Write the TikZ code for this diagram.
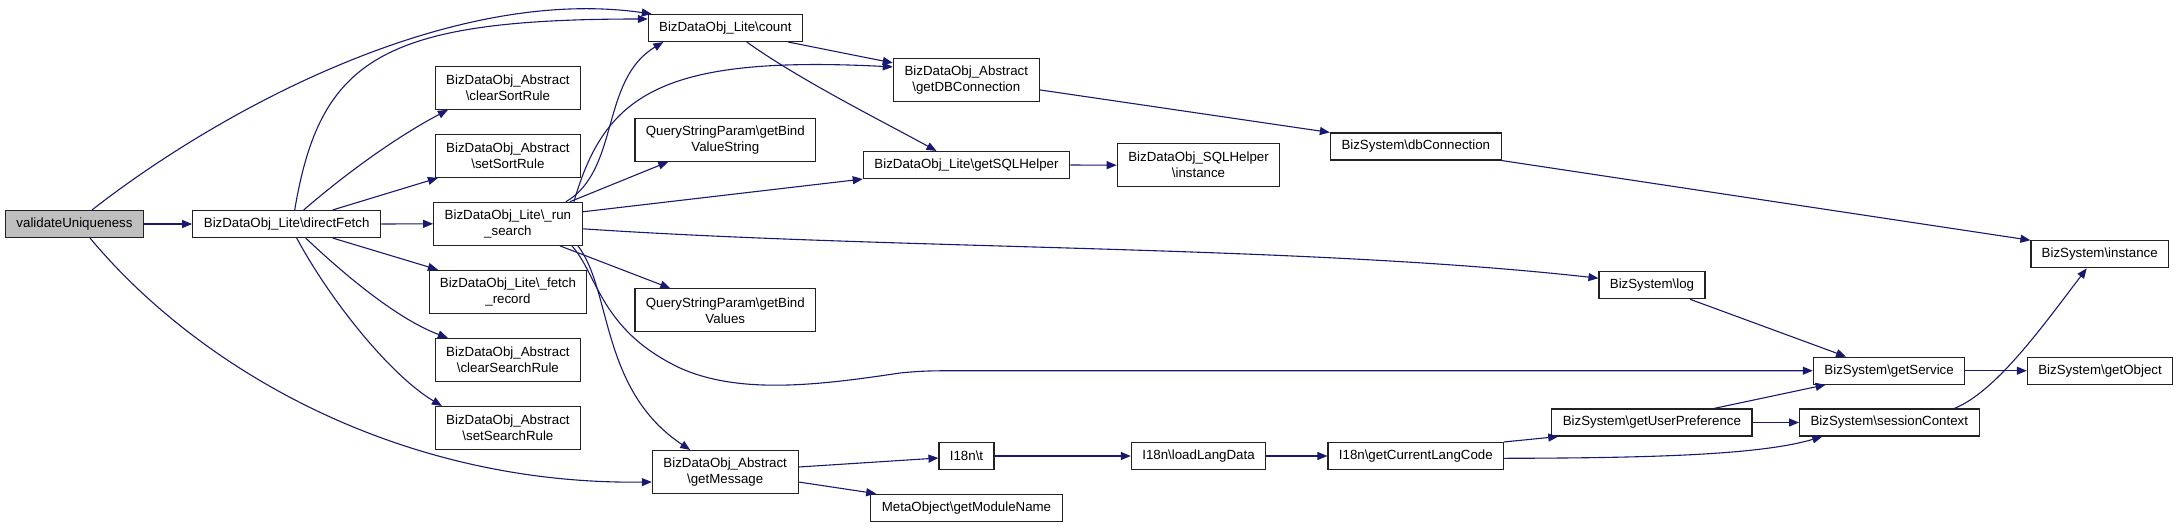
\documentclass[tikz,border=0pt]{standalone}
\usepackage{fontspec}
\setmainfont{Liberation Sans}
\usetikzlibrary{arrows.meta}
\definecolor{edgeblue}{HTML}{191970}
\definecolor{rootgray}{HTML}{BFBFBF}
\definecolor{boxline}{HTML}{222222}
\tikzset{
  fn/.style={draw=boxline, line width=1.1pt, font=\fontsize{13.3}{16}\selectfont, align=center, inner sep=0pt, minimum height=27pt, fill=white},
  two/.style={minimum height=43pt},
  edge/.style={draw=edgeblue, line width=1.1pt, -{Triangle[length=10pt,width=8pt]}}
}
\begin{document}
\begin{tikzpicture}[x=1pt,y=-1pt]
\fill[white] (0,0) rectangle (2179,528);
\useasboundingbox (0,0) rectangle (2179,528);
% nodes
\node[fn, fill=rootgray, minimum width=138pt] (vu) at (74.5,224) {validateUniqueness};
\node[fn, minimum width=188pt] (df) at (286.7,224) {BizDataObj\_Lite\textbackslash directFetch};
\node[fn, two, minimum width=145.5pt] (csr) at (507.9,87.8) {BizDataObj\_Abstract\\\textbackslash clearSortRule};
\node[fn, two, minimum width=145.5pt] (ssr) at (507.9,155.9) {BizDataObj\_Abstract\\\textbackslash setSortRule};
\node[fn, two, minimum width=148.5pt] (rs) at (507.9,223.8) {BizDataObj\_Lite\textbackslash \_run\\\_search};
\node[fn, two, minimum width=157.7pt] (fr) at (507.9,291.8) {BizDataObj\_Lite\textbackslash \_fetch\\\_record};
\node[fn, two, minimum width=145.5pt] (cser) at (507.9,360) {BizDataObj\_Abstract\\\textbackslash clearSearchRule};
\node[fn, two, minimum width=145.5pt] (sser) at (507.9,428) {BizDataObj\_Abstract\\\textbackslash setSearchRule};
\node[fn, minimum width=154pt] (cnt) at (725.3,28) {BizDataObj\_Lite\textbackslash count};
\node[fn, two, minimum width=146pt] (gdb) at (966.3,79.9) {BizDataObj\_Abstract\\\textbackslash getDBConnection};
\node[fn, two, minimum width=180.7pt] (gbvs) at (725.3,139.7) {QueryStringParam\textbackslash getBind\\ValueString};
\node[fn, minimum width=206.4pt] (gsql) at (966.5,165) {BizDataObj\_Lite\textbackslash getSQLHelper};
\node[fn, two, minimum width=180.7pt] (gbv) at (725.3,310.3) {QueryStringParam\textbackslash getBind\\Values};
\node[fn, two, minimum width=145.7pt] (gm) at (725.2,472) {BizDataObj\_Abstract\\\textbackslash getMessage};
\node[fn, minimum width=55pt] (tt) at (966.5,456) {I18n\textbackslash t};
\node[fn, minimum width=191.6pt] (gmn) at (966.5,507.7) {MetaObject\textbackslash getModuleName};
\node[fn, two, minimum width=162.6pt] (sqli) at (1198.5,165.2) {BizDataObj\_SQLHelper\\\textbackslash instance};
\node[fn, minimum width=170.8pt] (dbc) at (1415.8,146.5) {BizSystem\textbackslash dbConnection};
\node[fn, minimum width=134.3pt] (lld) at (1198.5,456) {I18n\textbackslash loadLangData};
\node[fn, minimum width=175.6pt] (gclc) at (1415.8,456) {I18n\textbackslash getCurrentLangCode};
\node[fn, minimum width=106pt] (log) at (1652,285.2) {BizSystem\textbackslash log};
\node[fn, minimum width=200.2pt] (gup) at (1651.9,422.5) {BizSystem\textbackslash getUserPreference};
\node[fn, minimum width=137.5pt] (inst) at (2099.7,254.3) {BizSystem\textbackslash instance};
\node[fn, minimum width=151.6pt] (gs) at (1889.1,370.7) {BizSystem\textbackslash getService};
\node[fn, minimum width=179.5pt] (sc) at (1889.3,422.5) {BizSystem\textbackslash sessionContext};
\node[fn, minimum width=145.4pt] (go) at (2100,370.7) {BizSystem\textbackslash getObject};
% edges from validateUniqueness
\draw[edge] (vu.east) -- (df.west);
\draw[edge] ([xshift=17.5pt]vu.north) .. controls (220,110) and (450,-15) .. ([xshift=4pt]cnt.north west);
\draw[edge] ([xshift=15.5pt]vu.south) .. controls (200,370) and (400,485) .. ([yshift=-10pt]gm.west);
% edges from directFetch
\draw[edge] ([xshift=8pt]df.north) .. controls (320,60) and (380,19) .. ([yshift=9pt]cnt.west);
\draw[edge] ([xshift=17pt]df.north) .. controls (350,170) and (400,135) .. ([xshift=-60pt]csr.south);
\draw[edge] ([xshift=46pt]df.north) -- ([xshift=-70pt]ssr.south);
\draw[edge] (df.east) -- (rs.west);
\draw[edge] ([xshift=46pt]df.south) -- ([xshift=-70pt]fr.north);
\draw[edge] ([xshift=19pt]df.south) .. controls (350,280) and (400,320) .. ([xshift=-60pt]cser.north);
\draw[edge] ([xshift=10pt]df.south) .. controls (330,300) and (390,375) .. ([xshift=-66pt]sser.north);
% edges from _run_search
\draw[edge] ([xshift=58pt]rs.north) .. controls (620,170) and (600,80) .. ([xshift=-62pt]cnt.south);
\draw[edge] ([xshift=66pt]rs.north) .. controls (605,95) and (660,55) .. ([yshift=13pt]gdb.west);
\draw[edge] ([xshift=62pt]rs.north) -- ([xshift=-57pt]gbvs.south);
\draw[edge] ([yshift=12pt]rs.east) -- (gsql.south west);
\draw[edge] ([yshift=-5pt]rs.east) .. controls (900,250) and (1300,245) .. ([yshift=7pt]log.west);
\draw[edge] ([xshift=52pt]rs.south) -- ([xshift=-55pt]gbv.north);
\draw[edge] ([xshift=64pt]rs.south) .. controls (598,275) and (600,330) .. (680,368)
   .. controls (740,395) and (820,385) .. (900,373)
   .. controls (920,371) and (930,370.7) .. (960,370.7) -- (gs.west);
\draw[edge] ([xshift=70pt]rs.south) .. controls (612,290) and (600,390) .. ([xshift=-35pt]gm.north);
% edges from count
\draw[edge] ([xshift=63pt]cnt.south) -- ([yshift=17pt]gdb.west);
\draw[edge] ([xshift=21.5pt]cnt.south) .. controls (800,80) and (880,120) .. ([xshift=-30pt]gsql.north);
% others
\draw[edge] ([yshift=-10pt]gdb.east) -- (dbc.north west);
\draw[edge] (gsql.east) -- (sqli.west);
\draw[edge] (dbc.south east) -- (inst.north west);
\draw[edge] ([yshift=5pt]gm.east) -- ([yshift=-2pt]tt.west);
\draw[edge] ([yshift=-10pt]gm.east) -- ([xshift=6pt]gmn.north west);
\draw[edge] (tt.east) -- (lld.west);
\draw[edge] (lld.east) -- (gclc.west);
\draw[edge] (gclc.north east) -- ([xshift=7pt]gup.south west);
\draw[edge] ([yshift=-2.3pt]gclc.east) .. controls (1650,458) and (1760,455) .. ([xshift=-67pt]sc.south);
\draw[edge] ([xshift=62pt]gup.north) -- ([xshift=-63.5pt]gs.south);
\draw[edge] (gup.east) -- (sc.west);
\draw[edge] ([xshift=38pt]log.south) -- ([xshift=-43pt]gs.north);
\draw[edge] (gs.east) -- (go.west);
\draw[edge] ([xshift=65pt]sc.north) .. controls (1995,392) and (2040,330) .. ([xshift=-13pt]inst.south);
\end{tikzpicture}
\end{document}
